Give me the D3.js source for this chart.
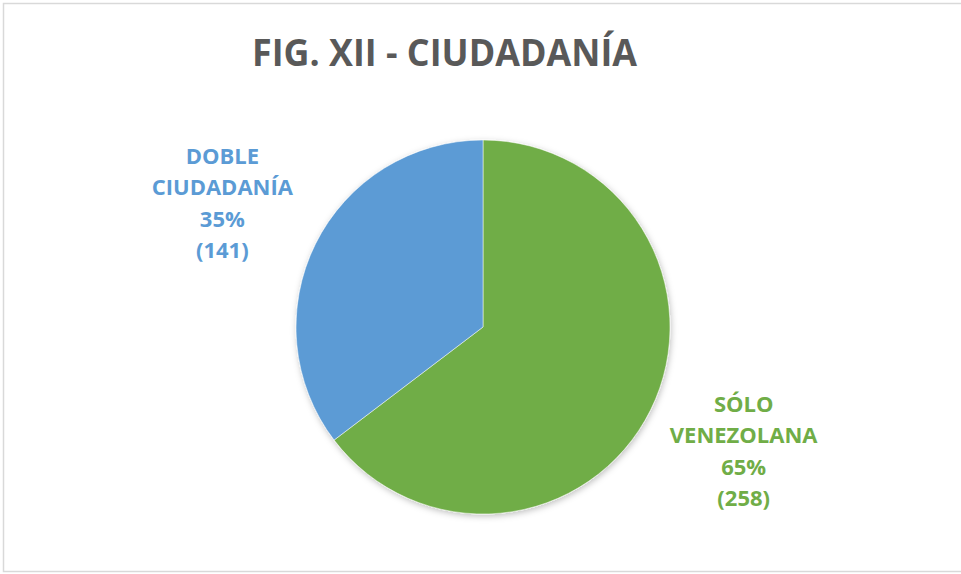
<!DOCTYPE html>
<html>
<head>
<meta charset="utf-8">
<script src="https://cdn.jsdelivr.net/npm/d3@7"></script>
<style>
  body { margin: 0; background: #fff; }
  svg { display: block; }
</style>
</head>
<body>
<div id="chart"></div>
<script>
// data
const categories = ["SÓLO VENEZOLANA", "DOBLE CIUDADANÍA"];
const labelLines = [["SÓLO", "VENEZOLANA"], ["DOBLE", "CIUDADANÍA"]];
const values = [258, 141];
const colors = ["#70AD47", "#5B9BD5"];
const titleText = "FIG. XII - CIUDADANÍA";

const width = 961,
    height = 574;

const svg = d3.select("#chart")
    .append("svg")
    .attr("width", width)
    .attr("height", height);

// frame
svg.append("rect")
    .attr("x", 3.5)
    .attr("y", 3.5)
    .attr("width", width)
    .attr("height", height - 6)
    .attr("fill", "#fff")
    .attr("stroke", "#d9d9d9")
    .attr("stroke-width", 1.5);

// shadow filter
const defs = svg.append("defs");
const filter = defs.append("filter")
    .attr("id", "shadow")
    .attr("x", "-10%").attr("y", "-10%")
    .attr("width", "120%").attr("height", "120%");
filter.append("feDropShadow")
    .attr("dx", 1)
    .attr("dy", 2)
    .attr("stdDeviation", 3)
    .attr("flood-color", "#000")
    .attr("flood-opacity", 0.25);

// title
svg.append("text")
    .attr("x", 444.5)
    .attr("y", 66)
    .attr("text-anchor", "middle")
    .attr("font-family", "'Open Sans', sans-serif")
    .attr("font-weight", "bold")
    .attr("font-size", 38)
    .attr("fill", "#595959")
    .attr("textLength", 385)
    .attr("lengthAdjust", "spacingAndGlyphs")
    .text(titleText);

const cx = 483, cy = 327, radius = 187;
const total = d3.sum(values);

const pie = d3.pie().sort(null).value(d => d);
const arcs = pie(values);

const arc = d3.arc().innerRadius(0).outerRadius(radius);

const g = svg.append("g")
    .attr("transform", `translate(${cx},${cy})`);

g.append("g")
    .attr("filter", "url(#shadow)")
    .selectAll("path")
    .data(arcs)
    .enter()
    .append("path")
    .attr("d", arc)
    .attr("fill", (d, i) => colors[i])
    .attr("stroke", "#fff")
    .attr("stroke-width", 0.5);

// labels, placed outside the pie at mid angle
const labelRx = 291, labelRy = 279;
const lineH = 31.5;
const labels = g.selectAll(".label")
    .data(arcs)
    .enter()
    .append("text")
    .attr("class", "label")
    .attr("text-anchor", "middle")
    .attr("font-family", "'Open Sans', sans-serif")
    .attr("font-weight", "bold")
    .attr("font-size", 22)
    .attr("fill", (d, i) => colors[i])
    .attr("transform", d => {
        const a = (d.startAngle + d.endAngle) / 2;
        return `translate(${Math.sin(a) * labelRx},${-Math.cos(a) * labelRy + 8})`;
    });

labels.each(function(d, i) {
    const lines = labelLines[i].concat([
        Math.round(d.value / total * 100) + "%",
        "(" + d.value + ")"
    ]);
    const t = d3.select(this);
    lines.forEach((line, j) => {
        t.append("tspan")
            .attr("x", 0)
            .attr("y", (j - (lines.length - 1) / 2) * lineH)
            .text(line);
    });
});
</script>
</body>
</html>
